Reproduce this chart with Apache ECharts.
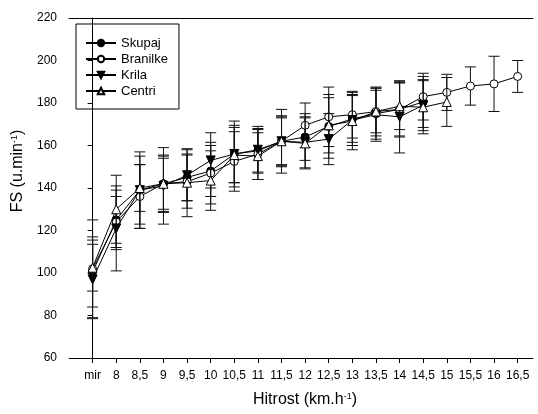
<!DOCTYPE html>
<html>
<head>
<meta charset="utf-8">
<script src="https://cdn.jsdelivr.net/npm/echarts@6/dist/echarts.min.js"></script>
<style>html,body{margin:0;padding:0;background:#fff}#c{width:538px;height:414px}</style>
</head>
<body>
<div id="c"></div>
<script>
var categories = ['mir','8','8,5','9','9,5','10','10,5','11','11,5','12','12,5','13','13,5','14','14,5','15','15,5','16','16,5'];
var yTicks = [60, 80, 100, 120, 140, 160, 180, 200, 220];

var skupajMean = [100.5, 125, 139, 142, 145, 148, 156, 157.5, 162, 164, 169, 172.5, 175, 177, 180.5];
var skupajSD   = [16.5, 14, 16, 12, 11, 12, 13.5, 10, 11, 11, 15, 11, 12, 12.5, 12];

var branilkeMean = [102, 124, 136, 142, 143, 147, 152.5, 156, 162, 169.5, 173.5, 174.5, 176, 177, 183, 185, 188, 189, 192.5];
var branilkeSD   = [23, 12, 15, 13, 12.5, 14.5, 14, 12, 15, 10.5, 14, 11, 11.5, 13, 11, 8.5, 9, 13, 7.5];

var krilaMean = [97, 121, 139, 141, 146, 153, 156, 158, 162, 161.5, 163, 172, 174.5, 173.5, 179];
var krilaSD   = [18.5, 20, 18, 18, 12, 13, 15.5, 11, 12, 12, 12, 12, 12.5, 17, 12];

var centriMean = [102.5, 130, 140, 142, 142.5, 143.5, 155.5, 155, 162, 161, 169.5, 171.5, 176, 178.5, 178, 180.5];
var centriSD   = [11, 16, 11, 13.5, 16, 14, 13, 11, 11.5, 12, 13, 13.5, 10, 11, 12.5, 11.5];

var seriesDefs = [
  {name: 'Skupaj', mean: skupajMean, sd: skupajSD, symbol: 'circle', fill: '#000', size: 8, rotate: 0},
  {name: 'Branilke', mean: branilkeMean, sd: branilkeSD, symbol: 'circle', fill: '#fff', size: 8, rotate: 0},
  {name: 'Krila', mean: krilaMean, sd: krilaSD, symbol: 'triangle', fill: '#000', size: 9, rotate: 180},
  {name: 'Centri', mean: centriMean, sd: centriSD, symbol: 'triangle', fill: '#fff', size: 9, rotate: 0}
];

var idx = categories.map(function (c, i) { return i; });

function errRender(params, api) {
  var x = api.value(0);
  var lo = api.coord([x, api.value(1)]);
  var hi = api.coord([x, api.value(2)]);
  var w = 5.5;
  var st = {stroke: '#111', lineWidth: 1};
  return {
    type: 'group',
    children: [
      {type: 'line', shape: {x1: lo[0], y1: lo[1], x2: hi[0], y2: hi[1]}, style: st},
      {type: 'line', shape: {x1: lo[0] - w, y1: lo[1], x2: lo[0] + w, y2: lo[1]}, style: st},
      {type: 'line', shape: {x1: hi[0] - w, y1: hi[1], x2: hi[0] + w, y2: hi[1]}, style: st}
    ]
  };
}

var series = [];
seriesDefs.forEach(function (d, k) {
  series.push({
    name: 'err-' + d.name,
    type: 'custom',
    renderItem: errRender,
    data: d.mean.map(function (m, i) { return [i, m - d.sd[i], m + d.sd[i]]; }),
    z: 1 + k * 3,
    silent: true
  });
});
seriesDefs.forEach(function (d, k) {
  series.push({
    name: d.name,
    type: 'line',
    data: d.mean.map(function (m, i) { return [i, m]; }),
    symbol: d.symbol,
    symbolSize: d.size,
    symbolRotate: d.rotate,
    showAllSymbol: true,
    lineStyle: {color: '#000', width: 1},
    itemStyle: {color: d.fill, borderColor: '#000', borderWidth: 1},
    z: 2 + k * 3
  });
});

var FF = 'Liberation Sans, Arial, sans-serif';
var chart = echarts.init(document.getElementById('c'), null, {renderer: 'canvas'});
chart.setOption({
  animation: false,
  backgroundColor: '#fff',
  textStyle: {fontFamily: FF},
  grid: {left: 69, right: 5, top: 18, bottom: 56, containLabel: false},
  legend: {
    data: seriesDefs.map(function (d) { return d.name; }),
    orient: 'vertical',
    left: 76, top: 24,
    borderColor: '#000', borderWidth: 1,
    padding: [12, 11, 11, 9],
    itemWidth: 30, itemHeight: 8, itemGap: 2,
    textStyle: {fontSize: 13, color: '#000', lineHeight: 14, fontFamily: FF}
  },
  xAxis: [{
    type: 'value', min: -1, max: 18.65,
    axisLine: {lineStyle: {color: '#000', width: 1}},
    axisTick: {show: true, inside: false, length: 5, lineStyle: {color: '#000'}, customValues: idx},
    axisLabel: {fontSize: 12, color: '#000', margin: 12, customValues: idx,
      formatter: function (v) { var i = Math.round(v); return categories[i] !== undefined ? categories[i] : ''; }},
    splitLine: {show: false}
  }, {
    type: 'value', min: -1, max: 18.65, position: 'top',
    axisLine: {show: true, lineStyle: {color: '#000', width: 1}},
    axisTick: {show: false}, axisLabel: {show: false}, splitLine: {show: false}
  }],
  yAxis: {
    type: 'value', min: yTicks[0], max: yTicks[yTicks.length - 1], interval: 20,
    axisLine: {show: true, lineStyle: {color: '#000', width: 1}},
    axisTick: {show: true, inside: false, length: 5, lineStyle: {color: '#000'}},
    axisLabel: {fontSize: 12, color: '#000', margin: 12},
    splitLine: {show: false}
  },
  graphic: [
    {type: 'text', x: 305, y: 400, style: {
      text: '{n|Hitrost (km.h}{s|-1}{n|)}', align: 'center', verticalAlign: 'middle',
      rich: {n: {fontSize: 16, fill: '#000', fontFamily: FF},
             s: {fontSize: 9, fill: '#000', verticalAlign: 'top', fontFamily: FF}}
    }},
    {type: 'text', x: 18, y: 171, rotation: Math.PI / 2, style: {
      text: '{n|FS (u.min}{s|-1}{n|)}', align: 'center', verticalAlign: 'middle',
      rich: {n: {fontSize: 16, fill: '#000', fontFamily: FF},
             s: {fontSize: 9, fill: '#000', verticalAlign: 'top', fontFamily: FF}}
    }}
  ],
  series: series
});
</script>
</body>
</html>
